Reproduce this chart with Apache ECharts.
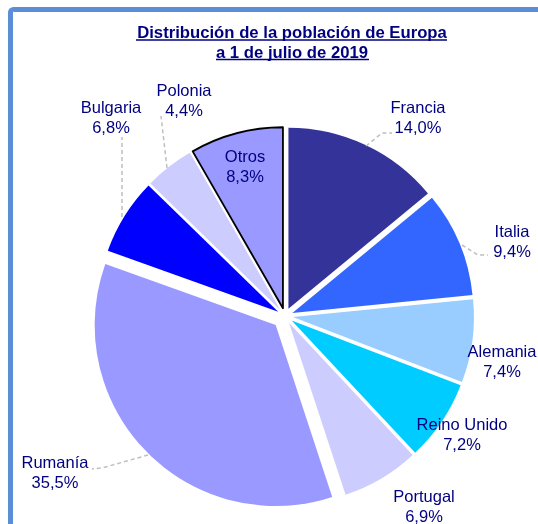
<!DOCTYPE html>
<html>
<head>
<meta charset="utf-8">
<style>
  html, body { margin: 0; padding: 0; background: #fff; }
  #chart { width: 538px; height: 524px; }
</style>
<script src="https://cdn.jsdelivr.net/npm/echarts@6/dist/echarts.min.js"></script>
</head>
<body>
<div id="chart"></div>
<script>
// datos: % de la población, en el orden del gráfico (desde las 12 en sentido horario)
const paises = ['Francia', 'Italia', 'Alemania', 'Reino Unido', 'Portugal', 'Rumanía', 'Bulgaria', 'Polonia', 'Otros'];
const porcentajes = [14.0, 9.4, 7.4, 7.2, 6.9, 35.5, 6.8, 4.4, 8.3];
const colores = ['#333399', '#3366FF', '#99CCFF', '#00CCFF', '#CCCCFF', '#9999FF', '#0000FF', '#CCCCFF', '#9999FF'];

// posición de las etiquetas y de las líneas guía (estilo, no datos)
const posEtiqueta = {
  'Francia': [418, 118], 'Italia': [512, 242], 'Alemania': [502, 362],
  'Reino Unido': [462, 435], 'Portugal': [424, 507], 'Rumanía': [55, 473],
  'Bulgaria': [111, 118], 'Polonia': [184, 101], 'Otros': [245, 167]
};
const lineaGuia = {
  'Francia': [[366, 146], [382, 133], [392, 133]],
  'Italia': [[462, 245], [478, 255], [488, 255]],
  'Rumanía': [[148, 455], [102, 468], [92, 469]],
  'Bulgaria': [[122, 217], [122, 137]],
  'Polonia': [[167, 168], [161, 116]]
};

const azulTexto = '#000080';
const fuente = '"Liberation Sans", Arial, sans-serif';

function fmt(nombre, valor) {
  return nombre + '\n' + valor.toFixed(1).replace('.', ',') + '%';
}

// serie 1: todas menos Rumanía; serie 2: solo Rumanía (más separada)
function datos(soloRumania) {
  return paises.map((n, i) => {
    const visible = soloRumania ? n === 'Rumanía' : n !== 'Rumanía';
    const item = {
      name: n,
      value: porcentajes[i],
      selected: visible,
      itemStyle: { color: visible ? colores[i] : 'rgba(0,0,0,0)' }
    };
    if (n === 'Otros' && visible) {
      item.itemStyle.borderColor = '#000';
      item.itemStyle.borderWidth = 1.8;
    }
    return item;
  });
}

const serieBase = {
  type: 'pie',
  center: [285, 316],
  radius: 181,
  startAngle: 90,
  clockwise: true,
  selectedMode: 'multiple',
  animation: false,
  silent: true,
  label: { show: false },
  labelLine: { show: false }
};

// etiquetas y líneas guía
const etiquetas = paises.map((n, i) => ({
  type: 'text',
  x: posEtiqueta[n][0],
  y: posEtiqueta[n][1],
  z: 10,
  style: {
    text: fmt(n, porcentajes[i]),
    fill: azulTexto,
    font: '16.5px ' + fuente,
    lineHeight: 20,
    align: 'center',
    verticalAlign: 'middle'
  }
}));
const guias = Object.keys(lineaGuia).map(n => ({
  type: 'polyline',
  z: 9,
  shape: { points: lineaGuia[n] },
  style: { fill: 'none', stroke: '#BFBFBF', lineWidth: 1.5, lineDash: [4, 3] }
}));

const chart = echarts.init(document.getElementById('chart'));
chart.setOption({
  backgroundColor: '#fff',
  title: {
    text: 'Distribución de la población de Europa\na 1 de julio de 2019',
    left: 292,
    top: 23,
    padding: 0,
    textAlign: 'center',
    textStyle: {
      color: azulTexto,
      fontFamily: fuente,
      fontSize: 16.7,
      fontWeight: 'bold',
      lineHeight: 20
    }
  },
  graphic: [
    {
      type: 'rect',
      shape: { x: 10.5, y: 9.5, width: 700, height: 700, r: 3 },
      style: { fill: 'none', stroke: '#5B8ED6', lineWidth: 5 }
    },
    { type: 'line', shape: { x1: 136, y1: 40, x2: 447, y2: 40 }, style: { stroke: azulTexto, lineWidth: 1.5 } },
    { type: 'line', shape: { x1: 216, y1: 59.5, x2: 369, y2: 59.5 }, style: { stroke: azulTexto, lineWidth: 1.5 } }
  ].concat(guias, etiquetas),
  series: [
    Object.assign({}, serieBase, { name: 'resto', selectedOffset: 8, data: datos(false) }),
    Object.assign({}, serieBase, { name: 'rumania', selectedOffset: 13, data: datos(true) })
  ]
});
</script>
</body>
</html>
